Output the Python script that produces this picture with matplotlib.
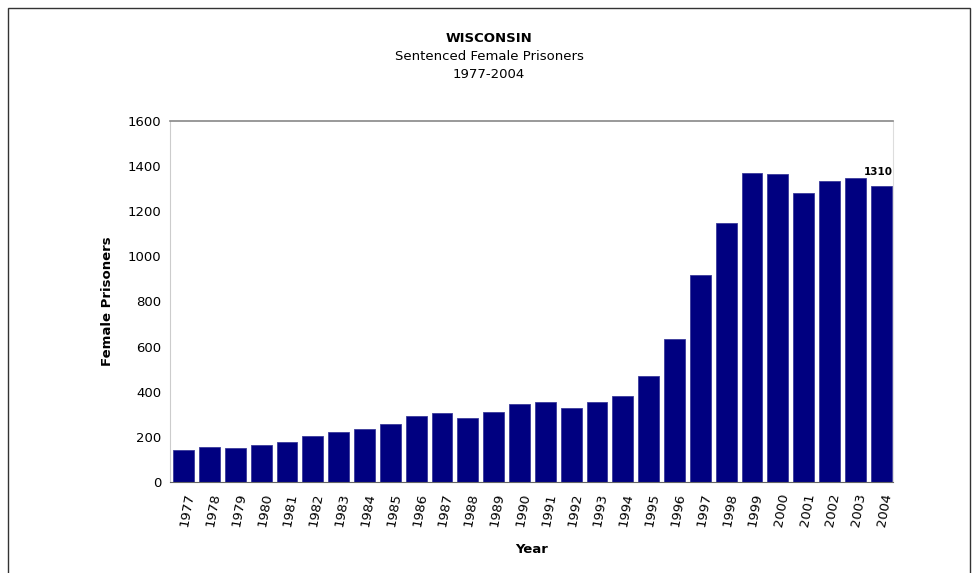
import matplotlib
matplotlib.use("Agg")
import matplotlib.pyplot as plt
from matplotlib.patches import Rectangle

years = [str(y) for y in range(1977, 2005)]
prisoners = [142, 155, 149, 163, 177, 205, 220, 233, 256, 291, 304, 284, 311, 347,
             353, 326, 353, 382, 468, 632, 917, 1149, 1370, 1363, 1283, 1333, 1348, 1310]
yticks = [0, 200, 400, 600, 800, 1000, 1200, 1400, 1600]

plt.rcParams['font.family'] = ['DejaVu Sans']
fig = plt.figure(figsize=(9.78, 5.73), dpi=100)
fig.patch.set_facecolor('white')

# outer frame
fig.add_artist(Rectangle((8/978, -0.1), (970-8)/978, 1.1 - 8/573, transform=fig.transFigure,
                         fill=False, edgecolor='#333333', linewidth=1.0))

ax = fig.add_axes([170/978, (573-482)/573, 723/978, 361/573])
x = list(range(len(years)))
ax.bar(x, prisoners, width=0.81, color='#000080', edgecolor='#3a3a9a', linewidth=0.6)
ax.set_xlim(-0.53, 27.46)
ax.set_ylim(0, 1600)
ax.set_yticks(yticks)
ax.set_yticklabels([str(v) for v in yticks], fontsize=9.5)
ax.set_xticks(x)
ax.set_xticklabels(years, rotation=80, ha='right', va='top', fontsize=9.5,
                   rotation_mode='anchor')
ax.tick_params(axis='both', length=0, pad=6)
ax.tick_params(axis='x', pad=7)

ax.spines['top'].set_color('#888888')
ax.spines['top'].set_linewidth(1.2)
ax.spines['left'].set_color('#cccccc')
ax.spines['right'].set_color('#dddddd')
ax.spines['bottom'].set_color('#666666')

ax.set_ylabel('Female Prisoners', fontsize=9.5, fontweight='bold', labelpad=10)
ax.set_xlabel('Year', fontsize=9.5, fontweight='bold', labelpad=11)

ax.text(x[-1] + 0.45, prisoners[-1] + 40, str(prisoners[-1]), ha='right', va='bottom',
        fontsize=7.5, fontweight='bold')

fig.text(0.5, 1 - 38/573, 'WISCONSIN', ha='center', va='center', fontsize=9.5, fontweight='bold')
fig.text(0.5, 1 - 57/573, 'Sentenced Female Prisoners', ha='center', va='center', fontsize=9.5)
fig.text(0.5, 1 - 75/573, '1977-2004', ha='center', va='center', fontsize=9.5)

fig.savefig('out.png', dpi=100, facecolor='white')
